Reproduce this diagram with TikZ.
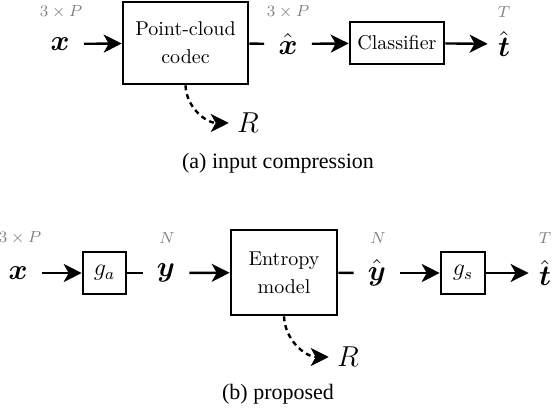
\documentclass[tikz,border=0pt]{standalone}
\usepackage{amsmath}
\usepackage{fontspec}
\newfontfamily\capfont{Liberation Serif}
\usetikzlibrary{arrows.meta}
\begin{document}
\begin{tikzpicture}[x=0.5pt,y=-0.5pt,
  var/.style={inner xsep=7pt, inner ysep=2pt, font=\Large},
  dimlbl/.style={inner sep=0pt, font=\footnotesize, text=black!50},
  blk/.style={draw, line width=1.3pt, inner sep=0pt, align=center},
  conn/.style={line width=1.2pt},
  arr/.style={conn, -{Stealth[length=9pt,width=9pt,inset=2.5pt]}},
  rate/.style={line width=1.2pt, dash pattern=on 2.5pt off 2pt, -{Stealth[length=9pt,width=9pt,inset=2.5pt]}},
  captxt/.style={font=\capfont\fontsize{11}{13}\selectfont, inner sep=0pt}]
\useasboundingbox (0,0) rectangle (556,410);
% (a)
\node[var] (x1) at (60,44) {$\boldsymbol{x}$};
\node[dimlbl] (l1) at (61,12) {$3\times P$};
\node[blk, minimum width=62.5pt, minimum height=41pt] (codec) at (185.5,43) {Point-cloud\\[2pt]codec};
\node[var] (xh) at (288,44) {$\hat{\boldsymbol{x}}$};
\node[dimlbl] (l2) at (288,12) {$3\times P$};
\node[blk, minimum width=47pt, minimum height=21pt] (cls) at (397,43) {Classifier};
\node[var, inner xsep=5pt] (th1) at (504,44) {$\hat{\boldsymbol{t}}$};
\node[dimlbl] (l3) at (504,12) {$T$};
\node[var, inner xsep=4pt, font=\Large] (R1) at (248,123) {$R$};
\draw[arr] (x1) -- (codec);
\draw[conn] (codec) -- (xh);
\draw[arr] (xh) -- (cls);
\draw[arr] (cls) -- (th1);
\draw[rate] (codec.south) to[out=-88,in=180] (R1.west);
\node[captxt] (capa) at (278,163) {(a) input compression};
% (b)
\node[var] (x2) at (18,273) {$\boldsymbol{x}$};
\node[dimlbl] (l4) at (20,238) {$3\times P$};
\node[blk, minimum width=21.5pt, minimum height=21pt, font=\large] (ga) at (104.5,273) {$g_a$};
\node[var] (y1) at (166,273) {$\boldsymbol{y}$};
\node[dimlbl] (l5) at (167,238) {$N$};
\node[blk, minimum width=53pt, minimum height=42.5pt] (ent) at (284,272.5) {Entropy\\[2pt]model};
\node[var] (yh) at (377,273) {$\hat{\boldsymbol{y}}$};
\node[dimlbl] (l6) at (378,238) {$N$};
\node[blk, minimum width=22pt, minimum height=21pt, font=\large] (gs) at (463,273) {$g_s$};
\node[var, inner xsep=5pt] (th2) at (545,273) {$\hat{\boldsymbol{t}}$};
\node[dimlbl] (l7) at (545,238) {$T$};
\node[var, inner xsep=4pt, font=\Large] (R2) at (348,357) {$R$};
\draw[arr] (x2) -- (ga);
\draw[conn] (ga) -- (y1);
\draw[arr] (y1) -- (ent);
\draw[conn] (ent) -- (yh);
\draw[arr] (yh) -- (gs);
\draw[arr] (gs) -- (th2);
\draw[rate] (ent.south) to[out=-88,in=180] (R2.west);
\node[captxt] (capb) at (278,394) {(b) proposed};
\end{tikzpicture}
\end{document}
